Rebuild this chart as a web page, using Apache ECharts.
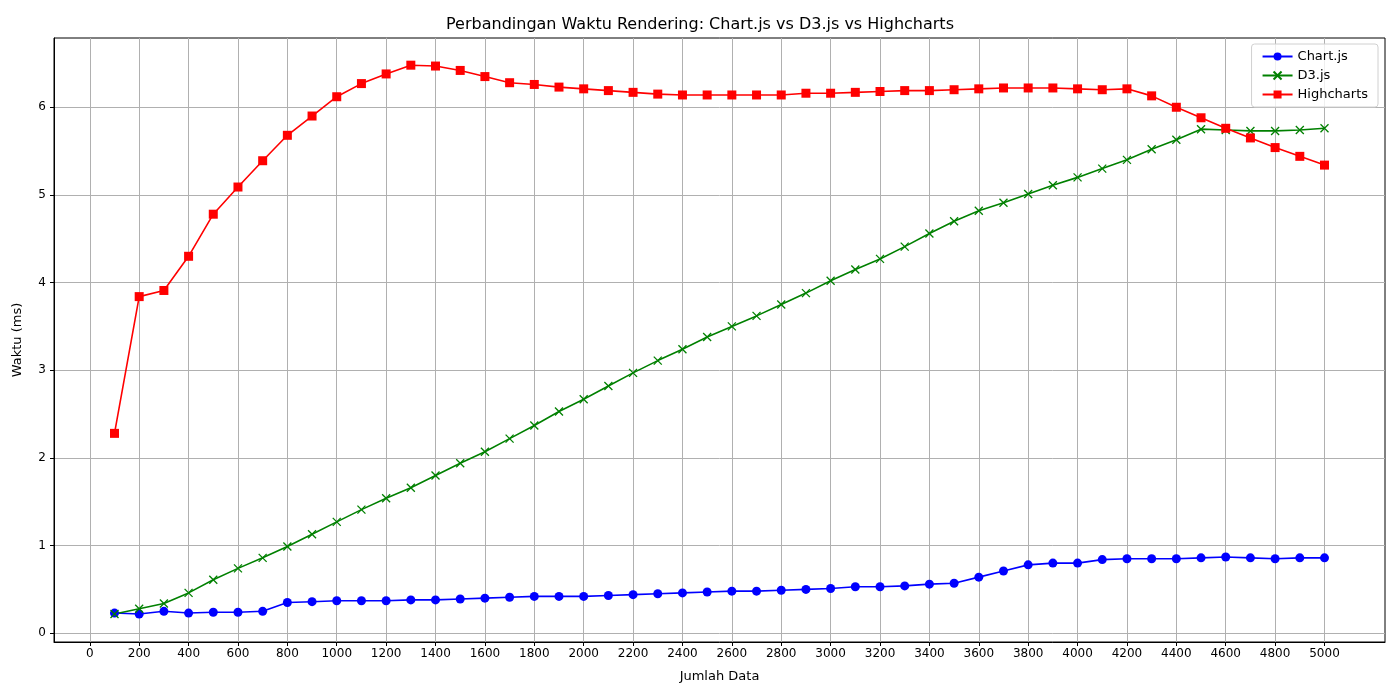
<!DOCTYPE html>
<html>
<head>
<meta charset="utf-8">
<script src="https://cdn.jsdelivr.net/npm/echarts@6/dist/echarts.min.js"></script>
<style>
  html, body { margin: 0; padding: 0; background: #fff; }
  #chart { width: 1400px; height: 700px; }
</style>
</head>
<body>
<div id="chart"></div>
<script>
const jumlahData = []
for (let n = 100; n <= 5000; n += 100) jumlahData.push(n)

const chartjs = [0.23, 0.22, 0.25, 0.23, 0.24, 0.24, 0.25, 0.35, 0.36, 0.37,
  0.37, 0.37, 0.38, 0.38, 0.39, 0.40, 0.41, 0.42, 0.42, 0.42,
  0.43, 0.44, 0.45, 0.46, 0.47, 0.48, 0.48, 0.49, 0.50, 0.51,
  0.53, 0.53, 0.54, 0.56, 0.57, 0.64, 0.71, 0.78, 0.80, 0.80,
  0.84, 0.85, 0.85, 0.85, 0.86, 0.87, 0.86, 0.85, 0.86, 0.86]

const d3js = [0.22, 0.28, 0.34, 0.46, 0.61, 0.74, 0.86, 0.99, 1.13, 1.27,
  1.41, 1.54, 1.66, 1.80, 1.94, 2.07, 2.22, 2.37, 2.53, 2.67,
  2.82, 2.97, 3.11, 3.24, 3.38, 3.50, 3.62, 3.75, 3.88, 4.02,
  4.15, 4.27, 4.41, 4.56, 4.70, 4.82, 4.91, 5.01, 5.11, 5.20,
  5.30, 5.40, 5.52, 5.63, 5.75, 5.74, 5.73, 5.73, 5.74, 5.76]

const highcharts = [2.28, 3.84, 3.91, 4.30, 4.78, 5.09, 5.39, 5.68, 5.90, 6.12,
  6.27, 6.38, 6.48, 6.47, 6.42, 6.35, 6.28, 6.26, 6.23, 6.21,
  6.19, 6.17, 6.15, 6.14, 6.14, 6.14, 6.14, 6.14, 6.16, 6.16,
  6.17, 6.18, 6.19, 6.19, 6.20, 6.21, 6.22, 6.22, 6.22, 6.21,
  6.20, 6.21, 6.13, 6.00, 5.88, 5.76, 5.65, 5.54, 5.44, 5.34]

const xTicks = []
for (let t = 0; t <= 5000; t += 200) xTicks.push(t)
const yTicks = [0, 1, 2, 3, 4, 5, 6]

const pair = arr => arr.map((v, i) => [jumlahData[i], v])
const font = 'DejaVu Sans'
const gridLine = { show: true, lineStyle: { color: '#b0b0b0', width: 1 } }

const chart = echarts.init(document.getElementById('chart'))
chart.setOption({
  animation: false,
  textStyle: { fontFamily: font },
  title: {
    text: 'Perbandingan Waktu Rendering: Chart.js vs D3.js vs Highcharts',
    left: 'center',
    top: 12,
    textStyle: { fontSize: 16, fontWeight: 'normal', color: '#000', fontFamily: font }
  },
  legend: {
    right: 22,
    top: 44,
    orient: 'vertical',
    itemGap: 6,
    itemWidth: 30,
    itemHeight: 10,
    padding: [6, 10],
    borderColor: '#d0d0d0',
    borderWidth: 1,
    borderRadius: 3,
    backgroundColor: 'rgba(255,255,255,0.8)',
    textStyle: { fontSize: 13, color: '#000' },
    data: ['Chart.js', 'D3.js', 'Highcharts']
  },
  grid: { left: 54, right: 15, top: 38, bottom: 58, show: true, borderColor: '#000', borderWidth: 1 },
  xAxis: {
    type: 'value',
    min: -145,
    max: 5245,
    name: 'Jumlah Data',
    nameLocation: 'middle',
    nameGap: 28,
    nameTextStyle: { fontSize: 13, color: '#000' },
    axisLine: { onZero: false, lineStyle: { color: '#000' } },
    axisTick: { customValues: xTicks, length: 4, lineStyle: { color: '#000' } },
    axisLabel: { customValues: xTicks, fontSize: 12, color: '#000', margin: 6, formatter: v => String(v) },
    splitLine: gridLine
  },
  yAxis: {
    type: 'value',
    min: -0.1,
    max: 6.79,
    name: 'Waktu (ms)',
    nameLocation: 'middle',
    nameGap: 30,
    nameTextStyle: { fontSize: 13, color: '#000' },
    axisLine: { show: true, onZero: false, lineStyle: { color: '#000' } },
    axisTick: { show: true, customValues: yTicks, length: 4, lineStyle: { color: '#000' } },
    axisLabel: { customValues: yTicks, fontSize: 12, color: '#000', margin: 8 },
    splitLine: gridLine
  },
  series: [
    {
      name: 'Chart.js', type: 'line', data: pair(chartjs),
      symbol: 'circle', symbolSize: 9,
      itemStyle: { color: '#0000ff' }, lineStyle: { width: 1.6, color: '#0000ff' }
    },
    {
      name: 'D3.js', type: 'line', data: pair(d3js),
      symbol: 'path://M0,0L10,10M10,0L0,10', symbolSize: 8,
      itemStyle: { color: 'none', borderColor: '#008000', borderWidth: 1.3 },
      lineStyle: { width: 1.6, color: '#008000' }
    },
    {
      name: 'Highcharts', type: 'line', data: pair(highcharts),
      symbol: 'rect', symbolSize: 9,
      itemStyle: { color: '#ff0000' }, lineStyle: { width: 1.6, color: '#ff0000' }
    }
  ]
})
</script>
</body>
</html>
